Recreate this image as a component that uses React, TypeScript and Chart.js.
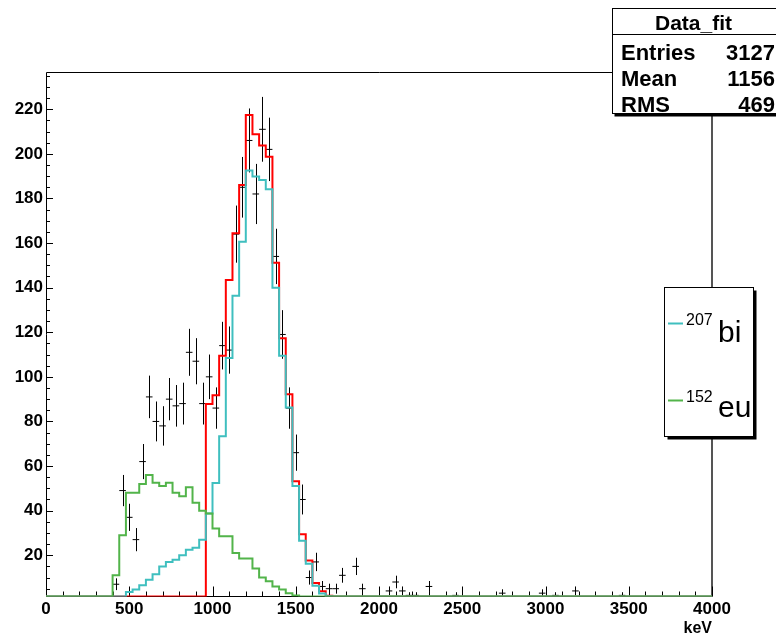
import React, { useEffect, useRef } from "react";
import { Chart, registerables } from "chart.js";

Chart.register(...registerables);

const FONT = '"Liberation Sans", Arial, Helvetica, sans-serif';

// Histogram binning (keV)
const BIN_WIDTH = 40;
const X_MIN = 0;
const X_MAX = 4000;
const Y_MIN = 1.5;
const Y_MAX = 236.7;
const X_TICKS = [0, 500, 1000, 1500, 2000, 2500, 3000, 3500, 4000];
const Y_TICKS = [20, 40, 60, 80, 100, 120, 140, 160, 180, 200, 220];
const X_TITLE = "keV";

// Measured counts per 40 keV bin (100 bins)
const dataCounts = [
  0, 0, 0, 0, 0, 0, 0, 0, 0, 0,
  7, 49, 37, 27, 62, 91, 80, 78, 90, 87,
  88, 111, 107, 88, 100, 86, 114, 112, 164, 185,
  206, 182, 211, 202, 154, 119, 86, 66, 45, 10,
  17, 6, 5, 5, 11, 0, 15, 5, 0, 0,
  0, 4, 8, 4, 2, 2, 0, 6, 0, 0,
  0, 2, 0, 0, 0, 0, 0, 0, 3, 0,
  0, 0, 0, 0, 3, 0, 2, 0, 0, 4,
  0, 0, 0, 0, 0, 0, 2, 0, 0, 0,
  0, 0, 0, 0, 0, 0, 0, 0, 0, 0,
];

// Total fit (red)
const fitTotal = [
  0, 0, 0, 0, 0, 0, 0, 0, 0, 0,
  0, 0, 0, 0, 0, 0, 0, 0, 0, 0,
  0, 0, 0, 0, 87.8, 91.8, 109.5, 143.4, 164.4, 186,
  217.4, 208.8, 203.7, 198.7, 151.2, 117.3, 92.2, 53.2, 29.4, 17.6,
  7.5, 3.8, 1.8, 0, 0, 0, 0, 0, 0, 0,
  0, 0, 0, 0, 0, 0, 0, 0, 0, 0,
  0, 0, 0, 0, 0, 0, 0, 0, 0, 0,
  0, 0, 0, 0, 0, 0, 0, 0, 0, 0,
  0, 0, 0, 0, 0, 0, 0, 0, 0, 0,
  0, 0, 0, 0, 0, 0, 0, 0, 0, 0,
];

// 207Bi component (cyan)
const fitBi207 = [
  0, 0, 0, 0, 0, 0, 0, 0, 0, 0,
  0, 0, 3.5, 4.6, 6.5, 9, 11.5, 15, 17, 18,
  20, 22.5, 23.4, 27, 38.7, 52.4, 73.4, 108.4, 136.4, 160.6,
  192.5, 189.8, 188.3, 184.1, 140, 109.5, 86.3, 51, 26.5, 16.2,
  6.3, 2.8, 1.6, 0, 0, 0, 0, 0, 0, 0,
  0, 0, 0, 0, 0, 0, 0, 0, 0, 0,
  0, 0, 0, 0, 0, 0, 0, 0, 0, 0,
  0, 0, 0, 0, 0, 0, 0, 0, 0, 0,
  0, 0, 0, 0, 0, 0, 0, 0, 0, 0,
  0, 0, 0, 0, 0, 0, 0, 0, 0, 0,
];

// 152Eu component (green)
const fitEu152 = [
  0, 0, 0, 0, 0, 0, 0, 0, 0, 0,
  11, 29, 48, 48, 52, 56, 52.5, 51, 52.5, 48,
  46.5, 50.5, 43.5, 40, 38.7, 32, 28.5, 28.5, 21, 18.5,
  18.5, 14, 10, 8.3, 6, 4.6, 3, 2, 1.5, 0,
  0, 0, 0, 0, 0, 0, 0, 0, 0, 0,
  0, 0, 0, 0, 0, 0, 0, 0, 0, 0,
  0, 0, 0, 0, 0, 0, 0, 0, 0, 0,
  0, 0, 0, 0, 0, 0, 0, 0, 0, 0,
  0, 0, 0, 0, 0, 0, 0, 0, 0, 0,
  0, 0, 0, 0, 0, 0, 0, 0, 0, 0,
];

const STATS_TITLE = "Data_fit";
const STATS_LABELS = ["Entries", "Mean", "RMS"];
const STATS_VALUES = ["3127", "1156", "469"];

const LEGEND_MASS = ["207", "152"];
const LEGEND_NAME = ["bi", "eu"];

const COLOR_TOTAL = "#ff0000";
const COLOR_BI = "#3fbfbf";
const COLOR_EU = "#52b44a";
const LEGEND_COLORS = [COLOR_BI, COLOR_EU];

function histPoints(vals: number[]) {
  const pts = vals.map((v, i) => ({ x: X_MIN + i * BIN_WIDTH, y: Math.max(v, Y_MIN) }));
  pts.push({ x: X_MAX, y: Math.max(vals[vals.length - 1], Y_MIN) });
  return pts;
}

const framePlugin = {
  id: "rootFrame",
  beforeDatasetsDraw(chart: any) {
    const { ctx, chartArea, scales } = chart;
    const x = scales.x;
    const y = scales.y;
    const L = Math.round(chartArea.left);
    const R = Math.round(chartArea.right);
    const T = Math.round(chartArea.top);
    const B = chartArea.bottom;
    ctx.save();
    ctx.strokeStyle = "#000";
    ctx.lineWidth = 1;
    ctx.beginPath();
    ctx.moveTo(L + 0.5, B);
    ctx.lineTo(L + 0.5, T + 0.5);
    ctx.lineTo(R, T + 0.5);
    ctx.moveTo(L, B);
    ctx.lineTo(R, B);
    ctx.stroke();
    ctx.strokeStyle = "#555";
    ctx.lineWidth = 2;
    ctx.beginPath();
    ctx.moveTo(R, T);
    ctx.lineTo(R, B);
    ctx.stroke();
    ctx.strokeStyle = "#000";
    ctx.lineWidth = 1;
    ctx.beginPath();
    for (let v = 5; v < Y_MAX; v += 5) {
      if (v < Y_MIN) continue;
      const py = Math.round(y.getPixelForValue(v)) + 0.5;
      const len = v % 20 === 0 ? 7 : 4;
      ctx.moveTo(L, py);
      ctx.lineTo(L + len, py);
    }
    for (let v = X_MIN; v <= X_MAX; v += 100) {
      const px = Math.round(x.getPixelForValue(v)) + 0.5;
      const len = v % 500 === 0 ? 10 : 5;
      ctx.moveTo(px, B);
      ctx.lineTo(px, B - len);
    }
    ctx.stroke();
    ctx.beginPath();
    ctx.rect(chartArea.left, chartArea.top, chartArea.width, chartArea.height);
    ctx.clip();
    ctx.beginPath();
    dataCounts.forEach((n, i) => {
      if (n <= 0) return;
      const err = Math.sqrt(n);
      const px = Math.round(x.getPixelForValue(X_MIN + (i + 0.5) * BIN_WIDTH)) + 0.5;
      ctx.moveTo(px, y.getPixelForValue(n + err));
      ctx.lineTo(px, y.getPixelForValue(Math.max(n - err, Y_MIN)));
    });
    ctx.stroke();
    ctx.restore();
  },
};

const boxesPlugin = {
  id: "rootBoxes",
  afterDraw(chart: any) {
    const { ctx } = chart;
    ctx.save();
    const sx = 612.5, sy = 8.5, sw = 166, sh = 105;
    ctx.fillStyle = "#000";
    ctx.fillRect(sx + 2, sy + 2, sw, sh + 1);
    ctx.fillStyle = "#fff";
    ctx.fillRect(sx, sy, sw, sh);
    ctx.strokeStyle = "#000";
    ctx.lineWidth = 1;
    ctx.strokeRect(sx, sy, sw, sh);
    ctx.beginPath();
    ctx.moveTo(sx, 34.5);
    ctx.lineTo(sx + sw, 34.5);
    ctx.stroke();
    ctx.fillStyle = "#000";
    ctx.textBaseline = "alphabetic";
    ctx.font = `bold 21px ${FONT}`;
    ctx.textAlign = "center";
    ctx.fillText(STATS_TITLE, 693.5, 30);
    ctx.font = `bold 22px ${FONT}`;
    const rowBase = [59.5, 86, 112];
    STATS_LABELS.forEach((lab, i) => {
      ctx.textAlign = "left";
      ctx.fillText(lab, 621, rowBase[i]);
      ctx.textAlign = "right";
      ctx.fillText(STATS_VALUES[i], 775, rowBase[i]);
    });
    const lx = 664.5, ly = 287.5, lw = 89, lh = 149;
    ctx.fillStyle = "#000";
    ctx.fillRect(lx + 3, ly + 3, lw, lh);
    ctx.fillStyle = "#fff";
    ctx.fillRect(lx, ly, lw, lh);
    ctx.strokeStyle = "#000";
    ctx.lineWidth = 1;
    ctx.strokeRect(lx, ly, lw, lh);
    const lineY = [323.5, 400.5];
    const nameBase = [341.5, 416.5];
    LEGEND_MASS.forEach((m, i) => {
      ctx.strokeStyle = LEGEND_COLORS[i];
      ctx.lineWidth = 2;
      ctx.beginPath();
      ctx.moveTo(668, lineY[i]);
      ctx.lineTo(683, lineY[i]);
      ctx.stroke();
      ctx.fillStyle = "#000";
      ctx.textAlign = "left";
      ctx.font = `16px ${FONT}`;
      ctx.fillText(m, 686, lineY[i] + 1);
      ctx.font = `30px ${FONT}`;
      ctx.fillText(LEGEND_NAME[i], 718, nameBase[i]);
    });
    ctx.restore();
  },
};

export default function App() {
  const ref = useRef<HTMLCanvasElement>(null);
  useEffect(() => {
    const canvas = ref.current;
    if (!canvas) return;
    const tickFont = { family: FONT, size: 17, weight: "bold" as const };
    const chart = new Chart(canvas, {
      type: "line",
      data: {
        datasets: [
          {
            type: "line",
            label: "152eu",
            data: histPoints(fitEu152),
            borderColor: COLOR_EU,
            borderWidth: 2,
            stepped: "before",
            pointRadius: 0,
            fill: false,
            borderJoinStyle: "miter",
            order: 1,
          },
          {
            type: "line",
            label: "207bi",
            data: histPoints(fitBi207),
            borderColor: COLOR_BI,
            borderWidth: 2,
            stepped: "before",
            pointRadius: 0,
            fill: false,
            borderJoinStyle: "miter",
            order: 2,
          },
          {
            type: "line",
            label: "fit",
            data: histPoints(fitTotal),
            borderColor: COLOR_TOTAL,
            borderWidth: 2,
            stepped: "before",
            pointRadius: 0,
            fill: false,
            borderJoinStyle: "miter",
            order: 3,
          },
          {
            type: "scatter",
            label: "Data_fit",
            data: dataCounts
              .map((n, i) => ({ x: X_MIN + (i + 0.5) * BIN_WIDTH, y: n }))
              .filter((p) => p.y > 0),
            showLine: false,
            pointStyle: "line",
            pointRadius: 3.3,
            pointHoverRadius: 3.3,
            pointBorderWidth: 1,
            pointBorderColor: "#000",
            borderColor: "#000",
            backgroundColor: "#000",
            order: 4,
          } as any,
        ],
      },
      options: {
        responsive: false,
        maintainAspectRatio: false,
        devicePixelRatio: 1,
        animation: false,
        events: [],
        layout: { padding: { top: 72, right: 64, bottom: 0, left: 0 } },
        plugins: {
          legend: { display: false },
          tooltip: { enabled: false },
        },
        scales: {
          x: {
            type: "linear",
            min: X_MIN,
            max: X_MAX,
            afterBuildTicks: (s: any) => {
              s.ticks = X_TICKS.map((v) => ({ value: v }));
            },
            afterFit: (s: any) => {
              s.height = 39.5;
            },
            grid: { display: false, drawTicks: false },
            border: { display: false },
            ticks: {
              autoSkip: false,
              maxRotation: 0,
              padding: 3,
              color: "#000",
              font: tickFont,
              callback: (v: any) => String(v),
            },
            title: {
              display: true,
              text: X_TITLE,
              align: "end",
              color: "#000",
              font: { family: FONT, size: 16, weight: "bold", lineHeight: 1 },
              padding: { top: 0, bottom: -1 },
            },
          },
          y: {
            type: "linear",
            min: Y_MIN,
            max: Y_MAX,
            afterBuildTicks: (s: any) => {
              s.ticks = Y_TICKS.map((v) => ({ value: v }));
            },
            afterFit: (s: any) => {
              s.width = 46;
            },
            grid: { display: false, drawTicks: false },
            border: { display: false },
            ticks: {
              autoSkip: false,
              padding: 3,
              color: "#000",
              font: tickFont,
              callback: (v: any) => String(v),
            },
          },
        },
      },
      plugins: [framePlugin, boxesPlugin],
    } as any);
    return () => chart.destroy();
  }, []);
  return (
    <div style={{ position: "fixed", left: 0, top: 0, width: 776, height: 636, background: "#fff" }}>
      <canvas ref={ref} width={776} height={636} style={{ display: "block", width: 776, height: 636 }} />
    </div>
  );
}
